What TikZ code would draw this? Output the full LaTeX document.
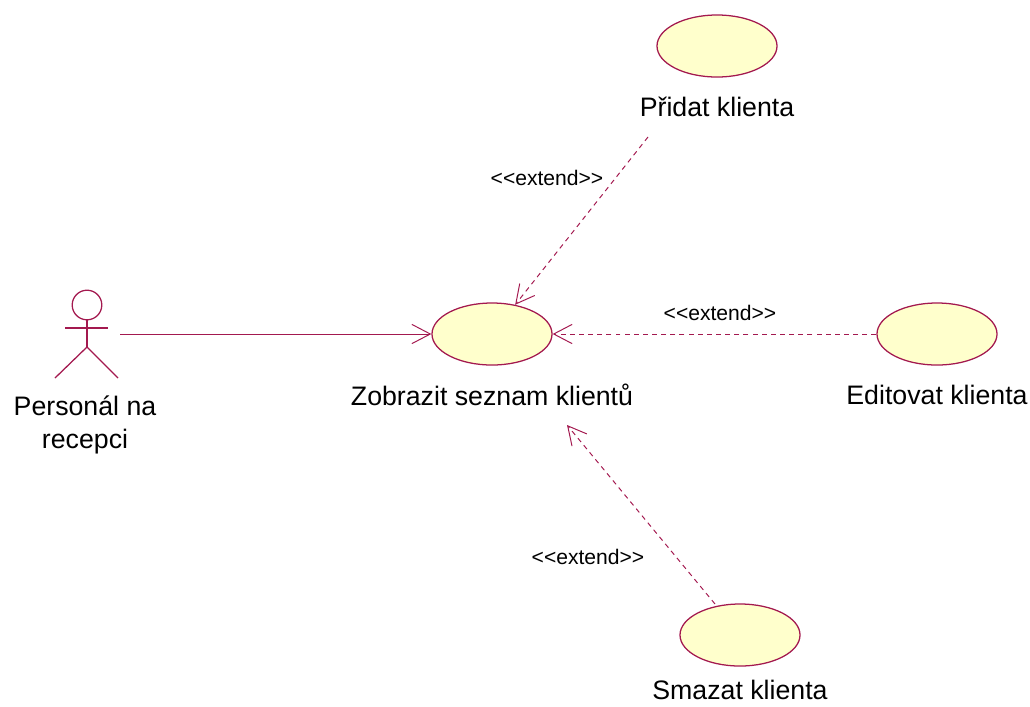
\documentclass[tikz,border=0pt]{standalone}
\usepackage{fontspec}
\setmainfont{Liberation Sans}
\usetikzlibrary{arrows.meta, positioning}
\usetikzlibrary{shapes.geometric}
\definecolor{umlline}{HTML}{A3194F}
\definecolor{umlfill}{HTML}{FFFFCC}
\newcommand{\extendtag}{{<}{<}extend{>}{>}}

\begin{document}
\begin{tikzpicture}[x=0.025cm, y=-0.025cm,
    >={Straight Barb[length=4.6mm, width=4.8mm]},
    usecase/.style={draw=umlline, fill=umlfill, ellipse, line width=0.9pt,
        minimum width=3cm, minimum height=1.55cm, inner sep=0mm},
    caption/.style={font=\fontsize{19}{23}\selectfont, inner sep=0mm, align=center},
    stereo/.style={font=\fontsize{15}{18}\selectfont, inner sep=0mm},
    extendline/.style={umlline, line width=0.7pt, dash pattern=on 3.5pt off 3pt, ->}]
            \useasboundingbox (0,0) rectangle (1030,706);
            % actor
            \begin{scope}[umlline, line width=0.9pt]
                \draw (87,305) circle[radius=0.37cm];
                \draw (87,320) -- (87,347);
                \draw (65,328) -- (108,328);
                \draw (55,378) -- (87,347) -- (118,378);
            \end{scope}
            \coordinate (staff) at (120,334);
            \node[caption] (stafftext) at (85,425) {Personál na\\recepci};
            % use cases
            \node[usecase] (zobrazit) at (492,334) {};
            \node[usecase] (pridat) at (717,46) {};
            \node[usecase] (editovat) at (937,334) {};
            \node[usecase] (smazat) at (740,635) {};
            \node[caption] (zobrazittext) at (492,395) {Zobrazit seznam klientů};
            \node[caption] (pridattext) at (717,107) {Přidat klienta};
            \node[caption] (editovattext) at (937,395) {Editovat klienta};
            \node[caption] (smazattext) at (740,690) {Smazat klienta};
            % connectors
            \coordinate (pridatfrom) at (648,137);
            \coordinate (smazatfrom) at (715,604);
            \coordinate (smazatto) at (567,425);
            \draw[umlline, line width=0.7pt, ->] (staff) -- (zobrazit.west);
            \draw[extendline] (pridatfrom) -- (zobrazit);
            \draw[extendline] (editovat.west) -- (zobrazit.east);
            \draw[extendline] (smazatfrom) -- (smazatto);
            \node[stereo] (pridatext) at (547,178) {\extendtag};
            \node[stereo] (editovatext) at (720,313) {\extendtag};
            \node[stereo] (smazatext) at (588,557) {\extendtag};
        \end{tikzpicture}
\end{document}
